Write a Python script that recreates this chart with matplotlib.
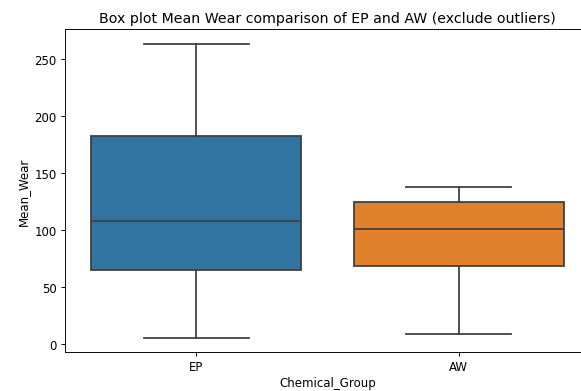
import matplotlib
matplotlib.use("Agg")
from matplotlib import pyplot as plt

# summary statistics (outliers excluded)
groups = ["EP", "AW"]
whislo = [5, 9]
q1 = [65, 68]
med = [108, 101]
q3 = [182, 124]
whishi = [263, 138]
box_colors = ["#3274A1", "#E1812C"]

stats = []
for i, name in enumerate(groups):
    stats.append({"label": name, "whislo": whislo[i], "q1": q1[i], "med": med[i],
                  "q3": q3[i], "whishi": whishi[i], "fliers": []})

dpi = 85
fig = plt.figure(figsize=(581 / dpi, 392 / dpi), dpi=dpi)
# the reference is cropped on the right, the right spine lies past the edge
ax = fig.add_axes([65 / 581, 39 / 392, 525 / 581, 323 / 392])

line_col = "#3f3f3f"
bp = ax.bxp(stats, positions=range(len(groups)), widths=0.8, patch_artist=True,
            showfliers=False,
            boxprops=dict(edgecolor=line_col, linewidth=1.5),
            medianprops=dict(color=line_col, linewidth=1.5),
            whiskerprops=dict(color=line_col, linewidth=1.5),
            capprops=dict(color=line_col, linewidth=1.5))
for patch, c in zip(bp["boxes"], box_colors):
    patch.set_facecolor(c)

ax.set_xlim(-0.5, 1.5)
ax.set_ylim(-7, 276)
ax.set_xticks(range(len(groups)))
ax.set_xticklabels(groups)
ax.set_xlabel("Chemical_Group", labelpad=2.5)
ax.set_ylabel("Mean_Wear")
ax.set_title("Box plot Mean Wear comparison of EP and AW (exclude outliers)")

fig.savefig("out.png", dpi=dpi)
